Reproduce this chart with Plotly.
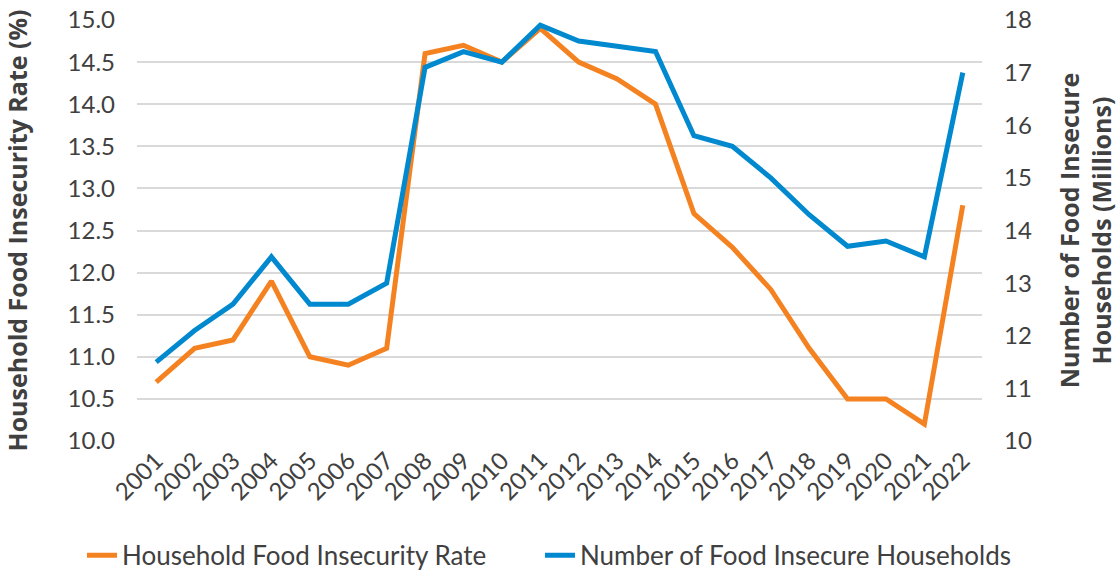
import plotly.graph_objects as go

years = [str(y) for y in range(2001, 2023)]
rate = [10.7, 11.1, 11.2, 11.9, 11.0, 10.9, 11.1, 14.6, 14.7, 14.5, 14.9,
        14.5, 14.3, 14.0, 12.7, 12.3, 11.8, 11.1, 10.5, 10.5, 10.2, 12.8]
households = [11.5, 12.1, 12.6, 13.5, 12.6, 12.6, 13.0, 17.1, 17.4, 17.2, 17.9,
              17.6, 17.5, 17.4, 15.8, 15.6, 15.0, 14.3, 13.7, 13.8, 13.5, 17.0]
left_ticks = [10.0, 10.5, 11.0, 11.5, 12.0, 12.5, 13.0, 13.5, 14.0, 14.5, 15.0]
right_ticks = [10, 11, 12, 13, 14, 15, 16, 17, 18]

ORANGE = "#F58220"
BLUE = "#0089CF"
TXT = "#404040"
FONT = "Lato"
TFONT = "Open Sans"

fig = go.Figure()
fig.add_trace(go.Scatter(x=years, y=rate, mode="lines", name="Household Food Insecurity Rate",
                         line=dict(color=ORANGE, width=5), yaxis="y", legend="legend"))
fig.add_trace(go.Scatter(x=years, y=households, mode="lines", name="Number of Food Insecure Households",
                         line=dict(color=BLUE, width=5), yaxis="y2", legend="legend2"))

leg_common = dict(orientation="h", xref="container", yref="container", y=0.031,
                  xanchor="left", yanchor="middle", font=dict(size=26, color=TXT, family=FONT),
                  bgcolor="rgba(0,0,0,0)")

fig.update_layout(
    width=1120, height=573,
    margin=dict(l=137, r=138, t=20, b=132),
    paper_bgcolor="white", plot_bgcolor="white",
    font=dict(family=FONT, color=TXT),
    showlegend=True,
    legend=dict(x=82 / 1120, **leg_common),
    legend2=dict(x=540 / 1120, **leg_common),
    xaxis=dict(type="category", range=[-0.5, 21.5], tickangle=-45, showgrid=False,
               showline=False, ticks="", automargin=False,
               tickfont=dict(size=24, color=TXT, family=FONT)),
    yaxis=dict(range=[10, 15], tickvals=left_ticks, ticktext=[f"{v:.1f}" for v in left_ticks],
               showgrid=True, gridcolor="#D9D9D9", gridwidth=2, zeroline=False, automargin=False,
               tickfont=dict(size=24, color=TXT, family=FONT), ticks="", ticklabelstandoff=21,
               title=dict(text="<b>Household Food Insecurity Rate (%)</b>",
                          font=dict(size=25, color=TXT, family=TFONT), standoff=32)),
    yaxis2=dict(range=[10, 18], tickvals=right_ticks, overlaying="y", side="right",
                showgrid=False, zeroline=False, ticks="", ticklabelstandoff=21, automargin=False,
                tickfont=dict(size=24, color=TXT, family=FONT),
                title=dict(text="<b>Number of Food Insecure<br>Households (Millions)</b>",
                           font=dict(size=25, color=TXT, family=TFONT), standoff=30)),
)

fig.write_html("out.html")
